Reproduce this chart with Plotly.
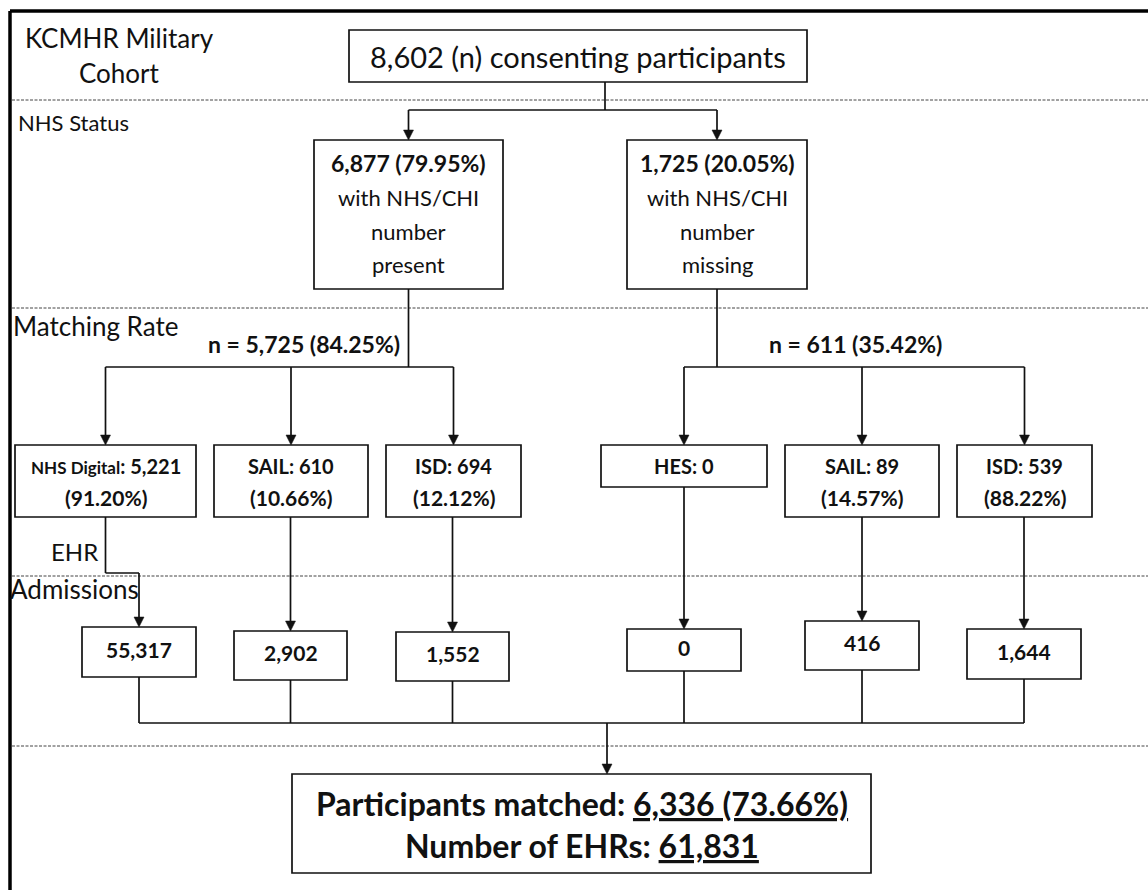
import plotly.graph_objects as go

# ---------------- data ----------------
total_n = 8602
status_n = [6877, 1725]
status_pct = [79.95, 20.05]
status_words = ["present", "missing"]
matched_n = [5725, 611]
matched_pct = [84.25, 35.42]
source_names = ["NHS Digital", "SAIL", "ISD", "HES", "SAIL", "ISD"]
source_n = [5221, 610, 694, 0, 89, 539]
source_pct = [91.20, 10.66, 12.12, None, 14.57, 88.22]
admissions = [55317, 2902, 1552, 0, 416, 1644]
participants_matched = 6336
participants_pct = 73.66
ehr_total = 61831
section_labels = ["NHS Status", "Matching Rate", "EHR", "Admissions"]

# ---------------- layout (pixel frame of the page) ----------------
W, H = 1148, 890
top_box = (349, 807, 30, 82)
split_y = 110
top_stem_x = 605
status_boxes = [(314, 503, 140, 289), (627, 807, 140, 289)]
branch_y = 367
source_boxes = [(15, 196, 445, 517), (214, 368, 445, 517), (386, 521, 445, 517),
                (601, 767, 445, 487), (785, 939, 445, 517), (957, 1092, 445, 517)]
adm_boxes = [(82, 196, 627, 677), (234, 347, 631, 680), (396, 509, 632, 681),
             (627, 741, 629, 671), (805, 919, 621, 670), (967, 1081, 629, 679)]
elbow_y = 573
merge_y = 723
final_stem_x = 607
final_box = (292, 871, 774, 873)
dash_ys = [100, 308, 576, 746]

FONT = "Lato, Carlito, Calibri, sans-serif"
INK = "#111111"
LW = 1.7

shapes = []
annotations = []


def cx(b):
    return (b[0] + b[1]) / 2


def rect(b):
    shapes.append(dict(type="rect", xref="x", yref="y", x0=b[0], x1=b[1], y0=b[2], y1=b[3],
                       line=dict(color=INK, width=LW), fillcolor="white", layer="above"))


def seg(x0, y0, x1, y1, width=LW, color=INK, dash=None):
    ln = dict(color=color, width=width)
    if dash:
        ln["dash"] = dash
    shapes.append(dict(type="line", xref="x", yref="y", x0=x0, y0=y0, x1=x1, y1=y1, line=ln,
                       layer="below"))


def arrow_down(x, y_from, y_tip):
    seg(x, y_from, x, y_tip - 8)
    path = f"M {x-5},{y_tip-10} L {x+5},{y_tip-10} L {x},{y_tip} Z"
    shapes.append(dict(type="path", xref="x", yref="y", path=path, fillcolor=INK,
                       line=dict(color=INK, width=0.5), layer="above"))


def text(x, y, t, size, anchor="center", bold=False):
    if bold:
        t = f"<b>{t}</b>"
    annotations.append(dict(x=x, y=y, xref="x", yref="y", text=t, showarrow=False,
                            xanchor=anchor, yanchor="middle",
                            font=dict(family=FONT, size=size, color=INK)))


# outer frame (only top and left edges visible)
seg(10, 11, W + 4, 11, width=3.5, color="#000")
seg(10, 11, 10, H + 4, width=3.5, color="#000")

# dashed separators
for yy in dash_ys:
    seg(12, yy, W + 4, yy, width=1, color="#444", dash="3px,1.5px")

# section labels
text(119, 38, "KCMHR Military", 26)
text(119, 73, "Cohort", 26)
text(16, 122, section_labels[0], 22, anchor="left")
text(11, 326, section_labels[1], 26, anchor="left")
text(74, 551, section_labels[2], 24)
text(8, 589, section_labels[3], 26, anchor="left")

# top box
rect(top_box)
text(cx(top_box), 56, f"{total_n:,} (n) consenting participants", 29)
seg(top_stem_x, top_box[3], top_stem_x, split_y)
seg(cx(status_boxes[0]), split_y, cx(status_boxes[1]), split_y)

# status boxes
for i, b in enumerate(status_boxes):
    arrow_down(cx(b), split_y, b[2])
    rect(b)
    text(cx(b), 163, f"{status_n[i]:,} ({status_pct[i]:.2f}%)", 23, bold=True)
    text(cx(b), 197, "with NHS/CHI", 22)
    text(cx(b), 231, "number", 22)
    text(cx(b), 264, status_words[i], 22)

# branches to sources
groups = [source_boxes[:3], source_boxes[3:]]
label_x = [304, 855]
for g, (b_status, grp) in enumerate(zip(status_boxes, groups)):
    seg(cx(b_status), b_status[3], cx(b_status), branch_y)
    seg(cx(grp[0]), branch_y, cx(grp[-1]), branch_y)
    for b in grp:
        arrow_down(cx(b), branch_y, b[2])
    text(label_x[g], 344, f"n = {matched_n[g]:,} ({matched_pct[g]:.2f}%)", 23, bold=True)

# source boxes
for i, b in enumerate(source_boxes):
    rect(b)
    name = source_names[i]
    if name == "NHS Digital":
        head = f"<span style='font-size:17px'>{name}</span>: {source_n[i]:,}"
    else:
        head = f"{name}: {source_n[i]:,}"
    if source_pct[i] is None:
        text(cx(b), (b[2] + b[3]) / 2, head, 20, bold=True)
    else:
        text(cx(b), 466, head, 20, bold=True)
        text(cx(b), 497, f"({source_pct[i]:.2f}%)", 21, bold=True)

# source -> admissions
for i, (sb, ab) in enumerate(zip(source_boxes, adm_boxes)):
    if i == 0:
        seg(cx(sb), sb[3], cx(sb), elbow_y)
        seg(cx(sb), elbow_y, cx(ab), elbow_y)
        arrow_down(cx(ab), elbow_y, ab[2])
    else:
        arrow_down(cx(ab), sb[3], ab[2])

# admissions boxes
for i, b in enumerate(adm_boxes):
    rect(b)
    yy = (b[2] + b[3]) / 2 - 3
    text(cx(b), yy, f"{admissions[i]:,}", 21, bold=True)
    seg(cx(b), b[3], cx(b), merge_y)

seg(cx(adm_boxes[0]), merge_y, cx(adm_boxes[-1]), merge_y)
arrow_down(final_stem_x, merge_y, final_box[2])

# final box
rect(final_box)
text(cx(final_box), 803,
     f"Participants matched: <u>{participants_matched:,} ({participants_pct:.2f}%)</u>", 32, bold=True)
text(cx(final_box), 845, f"Number of EHRs: <u>{ehr_total:,}</u>", 32, bold=True)

fig = go.Figure()
fig.update_layout(
    width=W, height=H,
    margin=dict(l=0, r=0, t=0, b=0),
    paper_bgcolor="white", plot_bgcolor="white",
    xaxis=dict(range=[0, W], visible=False, fixedrange=True),
    yaxis=dict(range=[H, 0], visible=False, fixedrange=True),
    shapes=shapes, annotations=annotations,
    showlegend=False,
    hovermode=False,
)
fig.write_html(
    "out.html",
    config={"displayModeBar": False, "staticPlot": True},
    post_script="document.body.style.margin='0';document.body.style.overflow='hidden';",
)
